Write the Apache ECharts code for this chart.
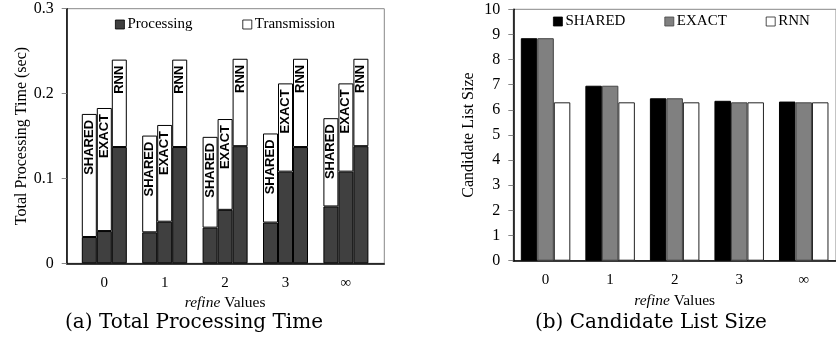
<!DOCTYPE html>
<html><head><meta charset="utf-8">
<script src="https://cdn.jsdelivr.net/npm/echarts@6/dist/echarts.min.js"></script>
<style>html,body{margin:0;padding:0;background:#fff}#c{width:836px;height:345px}</style>
</head><body><div id="c"></div>
<script>
const categories = ['0', '1', '2', '3', '\u221E'];
const yTicksA = [0, 0.1, 0.2, 0.3];
// (a) Total processing time (sec): processing and transmission parts
const procShared  = [0.031, 0.0365, 0.042, 0.048, 0.067];
const transShared = [0.145, 0.114, 0.107, 0.105, 0.104];
const procExact   = [0.038, 0.049, 0.063, 0.108, 0.108];
const transExact  = [0.145, 0.114, 0.107, 0.104, 0.104];
const procRnn     = [0.137, 0.137, 0.138, 0.137, 0.138];
const transRnn    = [0.103, 0.103, 0.103, 0.104, 0.103];
// (b) Candidate list size
const sizeShared = [8.85, 6.96, 6.46, 6.36, 6.33];
const sizeExact  = [8.85, 6.96, 6.46, 6.30, 6.30];
const sizeRnn    = [6.30, 6.30, 6.30, 6.30, 6.30];

const serif = 'Liberation Serif';
const chart = echarts.init(document.getElementById('c'));

const barLabel = (txt) => ({
  show: true, position: 'insideTop', distance: 6, rotate: 90,
  align: 'right', verticalAlign: 'middle',
  formatter: txt, fontFamily: 'Liberation Sans', fontWeight: 'bold', fontSize: 13, color: '#000'
});
const procStyle = {color: '#404040', borderColor: '#000', borderWidth: 1};
const transStyle = {color: '#fff', borderColor: '#000', borderWidth: 1};

const A = {top: 8.7, height: 254.6};
const B = {top: 9.3, height: 251.4};
const legText = {fontFamily: serif, fontSize: 15, color: '#000', padding: [0, 0, 0, -2]};
const xName = {fontFamily: serif, fontSize: 15.5, color: '#000', rich: {i: {fontFamily: serif, fontSize: 15.5, fontStyle: 'italic', color: '#000'}}};

chart.setOption({
  animation: false,
  textStyle: {fontFamily: serif},
  legend: [
    {data: ['Processing', 'Transmission'], left: 115, top: 17, padding: 0, icon: 'rect', itemWidth: 9, itemHeight: 9, itemGap: 50,
     itemStyle: {borderWidth: 0.8}, textStyle: legText, selectedMode: false},
    {data: ['SHARED', 'EXACT', 'RNN'], left: 553, top: 14, padding: 0, icon: 'rect', itemWidth: 9, itemHeight: 9, itemGap: 39,
     itemStyle: {borderWidth: 0.8}, textStyle: legText, selectedMode: false}
  ],
  grid: [
    {left: 66.7, top: A.top, width: 317.6, height: A.height, show: true, borderColor: '#888', borderWidth: 1},
    {left: 74.1, top: A.top, width: 302, height: A.height},
    {left: 513.3, top: B.top, width: 327.5, height: B.height, show: true, borderColor: '#888', borderWidth: 1}
  ],
  xAxis: [
    {gridIndex: 0, type: 'value', min: 0, max: 1, axisLabel: {show: false}, axisTick: {show: false},
     splitLine: {show: false}, axisLine: {show: true, lineStyle: {color: '#000', width: 1.5}}},
    {gridIndex: 1, type: 'category', data: categories, axisLine: {show: false}, axisTick: {show: false},
     axisLabel: {fontFamily: serif, fontSize: 15, color: '#000', margin: 12},
     name: '{i|refine} Values', nameLocation: 'middle', nameGap: 21, nameTextStyle: xName},
    {gridIndex: 2, type: 'category', data: categories,
     axisLine: {show: true, lineStyle: {color: '#000', width: 1.5}}, axisTick: {show: false},
     axisLabel: {fontFamily: serif, fontSize: 15, color: '#000', margin: 12},
     name: '{i|refine} Values', nameLocation: 'middle', nameGap: 28, nameTextStyle: xName}
  ],
  yAxis: [
    {gridIndex: 0, type: 'value', min: yTicksA[0], max: yTicksA[yTicksA.length - 1], interval: 0.1,
     axisLine: {show: true, lineStyle: {color: '#000', width: 1.5}},
     axisTick: {show: true, length: 5, lineStyle: {color: '#888'}},
     splitLine: {show: false},
     axisLabel: {fontFamily: serif, fontSize: 16, color: '#000', margin: 13},
     name: 'Total Processing Time (sec)', nameLocation: 'middle', nameGap: 37,
     nameTextStyle: {fontFamily: serif, fontSize: 16, color: '#000'}},
    {gridIndex: 1, type: 'value', min: 0, max: 0.3, show: false},
    {gridIndex: 2, type: 'value', min: 0, max: 10, interval: 1,
     axisLine: {show: true, lineStyle: {color: '#000', width: 1.5}},
     axisTick: {show: true, length: 5, lineStyle: {color: '#888'}},
     splitLine: {show: false},
     axisLabel: {fontFamily: serif, fontSize: 16, color: '#000', margin: 13},
     name: 'Candidate List Size', nameLocation: 'middle', nameGap: 37,
     nameTextStyle: {fontFamily: serif, fontSize: 16, color: '#000'}}
  ],
  series: [
    {name: 'Processing', type: 'bar', xAxisIndex: 1, yAxisIndex: 1, stack: 'S', data: procShared, barWidth: 15, barGap: '0%', itemStyle: procStyle},
    {name: 'Transmission', type: 'bar', xAxisIndex: 1, yAxisIndex: 1, stack: 'S', data: transShared, barWidth: 15, barGap: '0%', itemStyle: transStyle, label: barLabel('SHARED')},
    {name: 'Processing', type: 'bar', xAxisIndex: 1, yAxisIndex: 1, stack: 'E', data: procExact, barWidth: 15, barGap: '0%', itemStyle: procStyle},
    {name: 'Transmission', type: 'bar', xAxisIndex: 1, yAxisIndex: 1, stack: 'E', data: transExact, barWidth: 15, barGap: '0%', itemStyle: transStyle, label: barLabel('EXACT')},
    {name: 'Processing', type: 'bar', xAxisIndex: 1, yAxisIndex: 1, stack: 'R', data: procRnn, barWidth: 15, barGap: '0%', itemStyle: procStyle},
    {name: 'Transmission', type: 'bar', xAxisIndex: 1, yAxisIndex: 1, stack: 'R', data: transRnn, barWidth: 15, barGap: '0%', itemStyle: transStyle, label: barLabel('RNN')},
    {name: 'SHARED', type: 'bar', xAxisIndex: 2, yAxisIndex: 2, data: sizeShared, barWidth: 16.5, barGap: '0%', itemStyle: {color: '#000', borderColor: '#000', borderWidth: 1}},
    {name: 'EXACT', type: 'bar', xAxisIndex: 2, yAxisIndex: 2, data: sizeExact, barWidth: 16.5, barGap: '0%', itemStyle: {color: '#808080', borderColor: '#444', borderWidth: 1}},
    {name: 'RNN', type: 'bar', xAxisIndex: 2, yAxisIndex: 2, data: sizeRnn, barWidth: 16.5, barGap: '0%', itemStyle: {color: '#fff', borderColor: '#222', borderWidth: 1}}
  ],
  graphic: [
    {type: 'text', left: 65, top: 313, style: {text: '(a) Total Processing Time', font: '20px "DejaVu Serif"', fill: '#000'}},
    {type: 'text', left: 535, top: 313, style: {text: '(b) Candidate List Size', font: '20px "DejaVu Serif"', fill: '#000'}}
  ]
});
</script></body></html>
